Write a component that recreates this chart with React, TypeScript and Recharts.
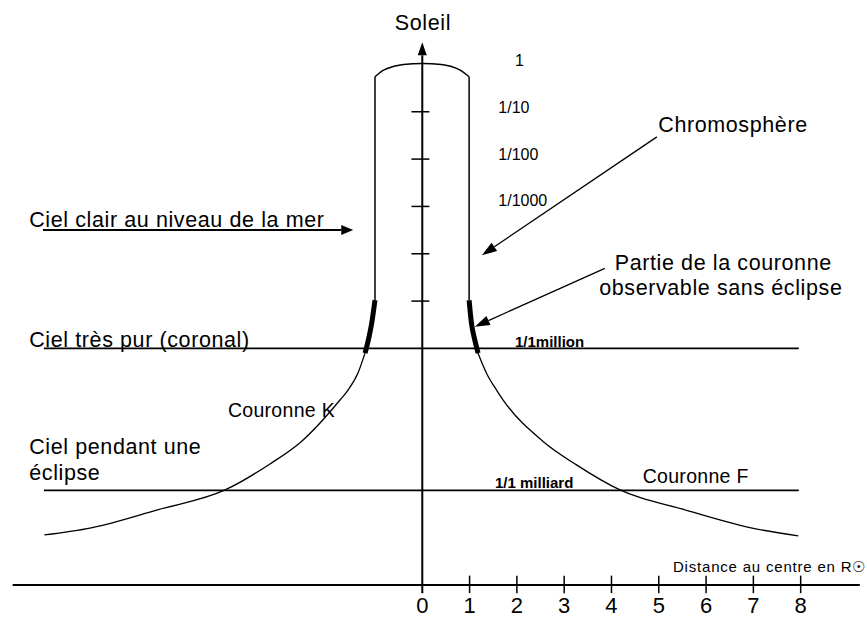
import React from 'react';
import { ComposedChart, Line, XAxis, YAxis, ReferenceLine, Scatter } from 'recharts';

const FONT = '"Liberation Sans", Arial, sans-serif';

// x : distance au centre en rayons solaires, y : log10 de la brillance relative au Soleil
const distanceTicks = [0, 1, 2, 3, 4, 5, 6, 7, 8];
const brightnessTicks = [-1, -2, -3, -4, -5];
const skyLevels = [-6, -9]; // ciel très pur (coronal), ciel pendant une éclipse

const soleilDome = [
  { x: -1, y: -0.26 },
  { x: -0.82, y: -0.12 },
  { x: -0.6, y: -0.04 },
  { x: -0.4, y: 0 },
  { x: 0, y: 0.02 },
  { x: 0.4, y: 0 },
  { x: 0.6, y: -0.04 },
  { x: 0.8, y: -0.12 },
  { x: 0.99, y: -0.26 },
];

const limbLeft = [{ x: -1, y: -0.26 }, { x: -1, y: -4.98 }];
const limbRight = [{ x: 0.99, y: -0.26 }, { x: 0.99, y: -4.98 }];

const observableLeft = [
  { x: -1.21, y: -6.1 },
  { x: -1.14, y: -5.82 },
  { x: -1.07, y: -5.47 },
  { x: -1.0, y: -4.98 },
];
const observableRight = [
  { x: 0.99, y: -4.98 },
  { x: 1.04, y: -5.47 },
  { x: 1.11, y: -5.82 },
  { x: 1.18, y: -6.1 },
];

const couronneLeft = [
  { x: -7.99, y: -9.94 },
  { x: -7.0, y: -9.79 },
  { x: -5.6, y: -9.41 },
  { x: -4.17, y: -8.99 },
  { x: -3.22, y: -8.44 },
  { x: -2.56, y: -7.97 },
  { x: -1.74, y: -7.09 },
  { x: -1.57, y: -6.88 },
  { x: -1.36, y: -6.52 },
  { x: -1.19, y: -6.03 },
];
const couronneRight = [
  { x: 1.15, y: -6.03 },
  { x: 1.36, y: -6.53 },
  { x: 1.57, y: -6.88 },
  { x: 1.71, y: -7.09 },
  { x: 2.56, y: -7.97 },
  { x: 3.26, y: -8.46 },
  { x: 4.18, y: -8.99 },
  { x: 5.59, y: -9.42 },
  { x: 7.0, y: -9.8 },
  { x: 7.95, y: -9.96 },
];

const arrows = [
  { from: { x: 0, y: -11.17 }, to: { x: 0, y: 0.47 }, head: 13, half: 4.5 },
  { from: { x: -8.02, y: -3.5 }, to: { x: -1.46, y: -3.5 }, head: 12, half: 5 },
  { from: { x: 4.96, y: -1.53 }, to: { x: 1.26, y: -4.03 }, head: 15, half: 5 },
  { from: { x: 3.86, y: -4.31 }, to: { x: 1.11, y: -5.54 }, head: 15, half: 5 },
];

const labels = [
  { x: -0.58, y: 0.73, text: 'Soleil', kind: 'big' },
  { x: 1.96, y: -0.03, text: '1', kind: 'small' },
  { x: 1.607, y: -1.03, text: '1/10', kind: 'small' },
  { x: 1.607, y: -2.02, text: '1/100', kind: 'small' },
  { x: 1.607, y: -2.99, text: '1/1000', kind: 'small' },
  { x: 1.96, y: -5.96, text: '1/1million', kind: 'bold' },
  { x: 1.537, y: -8.94, text: '1/1 milliard', kind: 'bold' },
  { x: 4.66, y: -8.84, text: 'Couronne F', kind: 'mid' },
  { x: -4.11, y: -7.45, text: 'Couronne K', kind: 'mid' },
  { x: 5.3, y: -10.72, text: 'Distance au centre en R☉', kind: 'tiny' },
  { x: 4.99, y: -1.42, text: 'Chromosphère', kind: 'big' },
  { x: 4.07, y: -4.34, text: 'Partie de la couronne', kind: 'big' },
  { x: 3.74, y: -4.87, text: 'observable sans éclipse', kind: 'big' },
  { x: -8.31, y: -3.43, text: 'Ciel clair au niveau de la mer', kind: 'big' },
  { x: -8.31, y: -5.96, text: 'Ciel très pur (coronal)', kind: 'big' },
  { x: -8.31, y: -8.23, text: 'Ciel pendant une', kind: 'big' },
  { x: -8.31, y: -8.78, text: 'éclipse', kind: 'big' },
];

const labelStyles: Record<string, any> = {
  big: { fontSize: 21.5, letterSpacing: 0.6 },
  mid: { fontSize: 19.5, letterSpacing: 0.3 },
  small: { fontSize: 16 },
  bold: { fontSize: 15, fontWeight: 'bold' },
  tiny: { fontSize: 15, letterSpacing: 0.8 },
};

const arrowWidth = (head: number) => (head === 13 || head === 12 ? 2 : 1.3);

const ArrowShape = (head: number, half: number) => (props: any) => {
  const { x1, y1, x2, y2 } = props;
  const a = Math.atan2(y2 - y1, x2 - x1);
  const bx = x2 - head * Math.cos(a);
  const by = y2 - head * Math.sin(a);
  const px = -Math.sin(a) * half;
  const py = Math.cos(a) * half;
  return (
    <g>
      <line x1={x1} y1={y1} x2={bx} y2={by} stroke="#000" strokeWidth={arrowWidth(head)} />
      <polygon points={`${x2},${y2} ${bx + px},${by + py} ${bx - px},${by - py}`} fill="#000" />
    </g>
  );
};

const LabelShape = (props: any) => {
  const { cx, cy, payload } = props;
  return (
    <text x={cx} y={cy} fill="#000" fontFamily={FONT} style={labelStyles[payload.kind]}>
      {payload.text}
    </text>
  );
};

const App = () => {
  return (
    <div style={{ position: 'absolute', left: 0, top: 0, background: '#fff' }}>
      <ComposedChart
        width={867}
        height={632}
        margin={{ top: 2.9, right: 7.2, bottom: 16.9, left: 12.68 }}
      >
        <XAxis
          dataKey="x"
          type="number"
          domain={[-8.66, 9.25]}
          ticks={distanceTicks}
          axisLine={{ stroke: '#000', strokeWidth: 2 }}
          tickLine={false}
          tickSize={0}
          tickMargin={12}
          height={30}
          interval={0}
          tick={{ fill: '#000', fontSize: 22, fontFamily: FONT }}
        />
        <YAxis dataKey="y" type="number" domain={[-11, 1.3]} hide />

        {skyLevels.map((lv) => (
          <ReferenceLine
            key={lv}
            segment={[{ x: -8.0, y: lv }, { x: 7.96, y: lv }]}
            stroke="#000"
            strokeWidth={1.8}
            ifOverflow="visible"
          />
        ))}

        {brightnessTicks.map((t) => (
          <ReferenceLine
            key={'yt' + t}
            segment={[{ x: -0.23, y: t }, { x: 0.15, y: t }]}
            stroke="#000"
            strokeWidth={1.5}
            ifOverflow="visible"
          />
        ))}

        {distanceTicks.slice(1).map((t) => (
          <ReferenceLine
            key={'xt' + t}
            segment={[{ x: t, y: -10.8 }, { x: t, y: -11.17 }]}
            stroke="#000"
            strokeWidth={1.5}
            ifOverflow="visible"
          />
        ))}

        {arrows.map((ar, i) => (
          <ReferenceLine
            key={'ar' + i}
            segment={[ar.from, ar.to]}
            ifOverflow="visible"
            shape={ArrowShape(ar.head, ar.half)}
          />
        ))}

        <Line data={soleilDome} dataKey="y" type="monotone" stroke="#000" strokeWidth={1.5} dot={false} activeDot={false} isAnimationActive={false} />
        <Line data={limbLeft} dataKey="y" type="linear" stroke="#000" strokeWidth={1.5} dot={false} activeDot={false} isAnimationActive={false} />
        <Line data={limbRight} dataKey="y" type="linear" stroke="#000" strokeWidth={1.5} dot={false} activeDot={false} isAnimationActive={false} />
        <Line data={couronneLeft} dataKey="y" type="monotone" stroke="#000" strokeWidth={1.3} dot={false} activeDot={false} isAnimationActive={false} />
        <Line data={couronneRight} dataKey="y" type="monotone" stroke="#000" strokeWidth={1.3} dot={false} activeDot={false} isAnimationActive={false} />
        <Line data={observableLeft} dataKey="y" type="monotone" stroke="#000" strokeWidth={5} dot={false} activeDot={false} isAnimationActive={false} />
        <Line data={observableRight} dataKey="y" type="monotone" stroke="#000" strokeWidth={5} dot={false} activeDot={false} isAnimationActive={false} />

        <Scatter data={labels} shape={LabelShape} isAnimationActive={false} />
      </ComposedChart>
    </div>
  );
};

export default App;
